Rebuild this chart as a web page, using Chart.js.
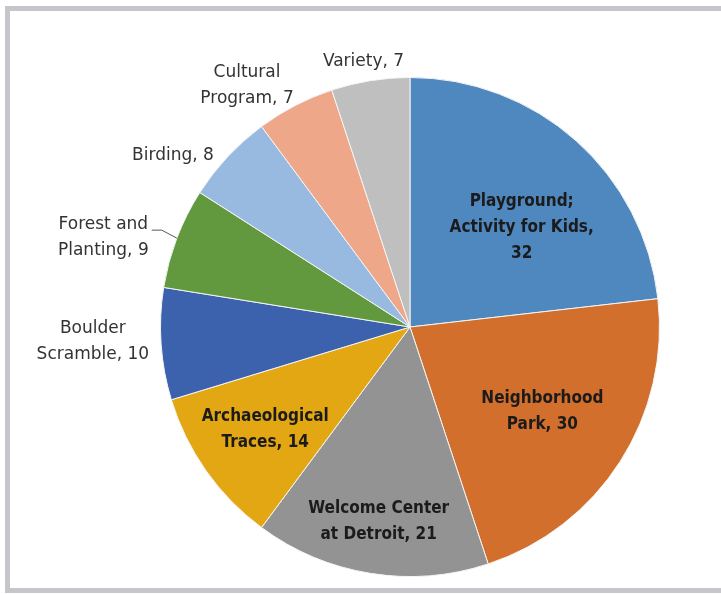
<!DOCTYPE html>
<html>
<head>
<meta charset="utf-8">
<script src="https://cdn.jsdelivr.net/npm/chart.js@4"></script>
<style>
  html, body { margin: 0; padding: 0; background: #fff; width: 721px; height: 594px; overflow: hidden; }
  .frame {
    position: absolute; left: 5px; top: 6px; width: 740px; height: 587px;
    border: 5px solid #c6c6ca; border-right: none; box-sizing: border-box;
  }
  #wrap { position: absolute; left: 0; top: 0; width: 721px; height: 594px; }
</style>
</head>
<body>
<div class="frame"></div>
<div id="wrap"><canvas id="pieChart" width="721" height="594"></canvas></div>
<script>
const labels = [
  ["Playground;", "Activity for Kids,"],
  ["Neighborhood", "Park,"],
  ["Welcome Center", "at Detroit,"],
  ["Archaeological", "Traces,"],
  ["Boulder", "Scramble,"],
  ["Forest and", "Planting,"],
  ["Birding,"],
  ["Cultural", "Program,"],
  ["Variety,"]
];
const values = [32, 30, 21, 14, 10, 9, 8, 7, 7];
const colors = [
  "#4F87BF", "#D26F2C", "#939393", "#E2A712", "#3D62AD",
  "#62993F", "#98B9E0", "#EFA78A", "#BFBFBF"
];

// 라벨 위치: 안쪽 라벨은 반지름 비율 + 각도 보정(도)
const insideAt = { 0: 0.6, 1: 0.63, 2: 0.79, 3: 0.71 };
const insideShift = { 0: 6.5 };
// 바깥 라벨 미세 조정 [x, y]
const outsideNudge = { 4: [0, -3], 5: [6, 9], 6: [-5, 7], 7: [4, -9], 8: [-5, 6] };
const leaderGap = { 5: 16 };

// turn a label into lines, the value goes on the last line or its own
const labelLines = (i) => {
  const parts = labels[i].slice();
  const last = parts.length - 1;
  if (i === 0) return [...parts, String(values[i])];
  parts[last] = parts[last] + " " + values[i];
  return parts;
};

const pieLabels = {
  id: "pieLabels",
  afterDatasetsDraw(chart) {
    const ctx = chart.ctx;
    const meta = chart.getDatasetMeta(0);
    const lh = 26;
    meta.data.forEach((arc, i) => {
      const lines = labelLines(i);
      let mid = (arc.startAngle + arc.endAngle) / 2;
      ctx.save();
      ctx.textBaseline = "middle";
      ctx.textAlign = "center";
      if (i in insideAt) {
        mid += ((insideShift[i] || 0) * Math.PI) / 180;
        ctx.font = "bold 17px 'DejaVu Sans Condensed', 'DejaVu Sans', sans-serif";
        ctx.fillStyle = "#1b1b1b";
        const r = arc.outerRadius * insideAt[i];
        const cx = arc.x + Math.cos(mid) * r, cy = arc.y + Math.sin(mid) * r;
        lines.forEach((t, k) => {
          ctx.fillText(t, cx, cy + (k - (lines.length - 1) / 2) * lh);
        });
      } else {
        const cos = Math.cos(mid), sin = Math.sin(mid);
        ctx.font = "17px 'DejaVu Sans', sans-serif";
        ctx.fillStyle = "#333333";
        const gap = 12 + (leaderGap[i] || 0);
        const r = arc.outerRadius + gap;
        const ax = arc.x + cos * r, ay = arc.y + sin * r;
        const w = Math.max(...lines.map((t) => ctx.measureText(t).width));
        const h = lines.length * lh;
        let cx, cy;
        if (Math.abs(cos) < 0.3) {
          cx = ax;
          cy = ay + (sin < 0 ? -h / 2 : h / 2);
        } else {
          cx = ax + (cos < 0 ? -w / 2 : w / 2);
          cy = ay;
        }
        const nudge = outsideNudge[i] || [0, 0];
        if (leaderGap[i]) cx -= 8;
        cx += nudge[0];
        cy += nudge[1];
        const top = cy - ((lines.length - 1) / 2) * lh;
        if (leaderGap[i]) {
          const ex = arc.x + cos * arc.outerRadius, ey = arc.y + sin * arc.outerRadius;
          const sx = cx + w / 2 + 3, sy = top + 6;
          ctx.strokeStyle = "#555";
          ctx.lineWidth = 1;
          ctx.beginPath();
          ctx.moveTo(sx, sy);
          ctx.lineTo(sx + 10, sy);
          ctx.lineTo(ex, ey);
          ctx.stroke();
        }
        lines.forEach((t, k) => {
          ctx.fillText(t, cx, top + k * lh);
        });
      }
      ctx.restore();
    });
  }
};

const pieChart = new Chart(document.getElementById("pieChart"), {
  type: "pie",
  data: {
    labels: labels.map((l) => l.join(" ")),
    datasets: [{
      data: values,
      backgroundColor: colors,
      borderColor: "#f4f4f4",
      borderWidth: 1
    }]
  },
  options: {
    responsive: false,
    animation: false,
    devicePixelRatio: 1,
    layout: { padding: { left: 160, right: 61, top: 77, bottom: 17 } },
    plugins: {
      legend: { display: false },
      tooltip: { enabled: false }
    }
  },
  plugins: [pieLabels]
});
</script>
</body>
</html>
